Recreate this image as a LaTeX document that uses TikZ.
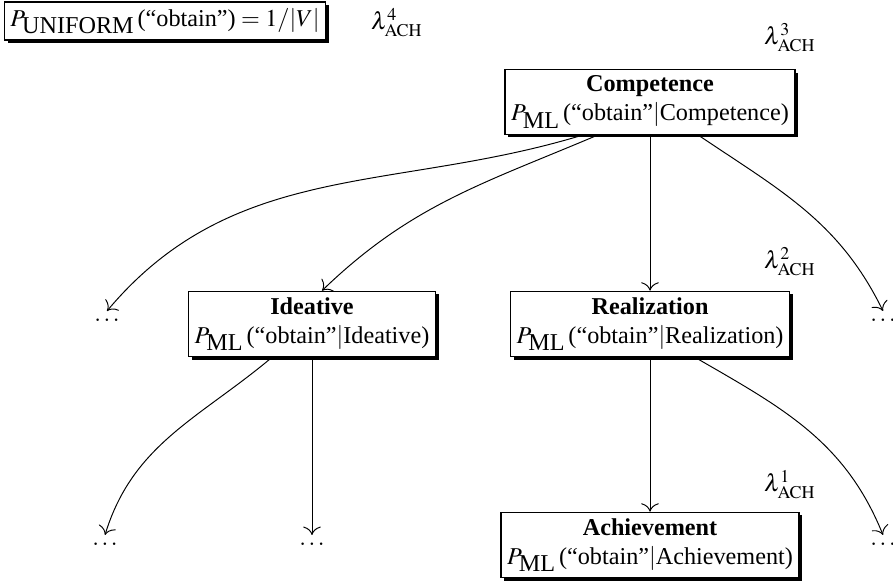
\documentclass[tikz,border=0pt]{standalone}
\usepackage{mathptmx}
\usepackage{fontspec}
\setmainfont{Liberation Serif}
\usetikzlibrary{positioning,arrows,arrows.meta,calc,shadows}

\begin{document}
\begin{tikzpicture}[x=0.4132pt,y=0.4132pt,>={To[scale=1.4]},
  pbox/.style={draw,fill=white,align=center,inner sep=2.5pt,line width=0.5pt,
    drop shadow={shadow xshift=1.3pt,shadow yshift=-1.3pt,fill=black,opacity=1}},
  lam/.style={inner sep=0pt},
  more/.style={inner sep=3pt}]

  \useasboundingbox (0,0) rectangle (893,-583);

  \node[pbox] (uni) at (165,-21) {$P_{\mbox{UNIFORM}}\,$(“obtain”)${}=1/|V|$};
  \node[lam] (l4) at (397,-23) {$\lambda^{4}_{\mathrm{ACH}}$};
  \node[lam] (l3) at (790,-38) {$\lambda^{3}_{\mathrm{ACH}}$};
  \node[lam] (l2) at (790,-262) {$\lambda^{2}_{\mathrm{ACH}}$};
  \node[lam] (l1) at (790,-485) {$\lambda^{1}_{\mathrm{ACH}}$};

  \node[pbox] (comp) at (650,-102) {\textbf{Competence}\\$P_{\mbox{ML}}\,$(“obtain”$|$Competence)};
  \node[pbox] (ide) at (312,-324) {\textbf{Ideative}\\$P_{\mbox{ML}}\,$(“obtain”$|$Ideative)};
  \node[pbox] (real) at (650,-324) {\textbf{Realization}\\$P_{\mbox{ML}}\,$(“obtain”$|$Realization)};
  \node[pbox] (ach) at (650,-545) {\textbf{Achievement}\\$P_{\mbox{ML}}\,$(“obtain”$|$Achievement)};

  \node[more] (dl1) at (107,-320) {$\dots$};
  \node[more] (dr1) at (883,-320) {$\dots$};
  \node[more] (dl2) at (105,-544) {$\dots$};
  \node[more] (dm2) at (312,-544) {$\dots$};
  \node[more] (dr2) at (883,-544) {$\dots$};

  \draw[->] ($(comp.south)+(-67,0)$) to[out=197,in=50] (dl1.north);
  \draw[->] ($(comp.south)+(-52,0)$) to[out=203,in=44] ($(ide.north)+(10,0)$);
  \draw[->] (comp.south) -- (real.north);
  \draw[->] ($(comp.south)+(48,0)$) to[out=-34,in=116] (dr1.north);

  \draw[->] ($(ide.south)+(-40,0)$) to[out=220,in=73] (dl2.north);
  \draw[->] (ide.south) -- (dm2.north);
  \draw[->] (real.south) -- (ach.north);
  \draw[->] ($(real.south)+(45,0)$) to[out=-30,in=112] (dr2.north);

\end{tikzpicture}
\end{document}
